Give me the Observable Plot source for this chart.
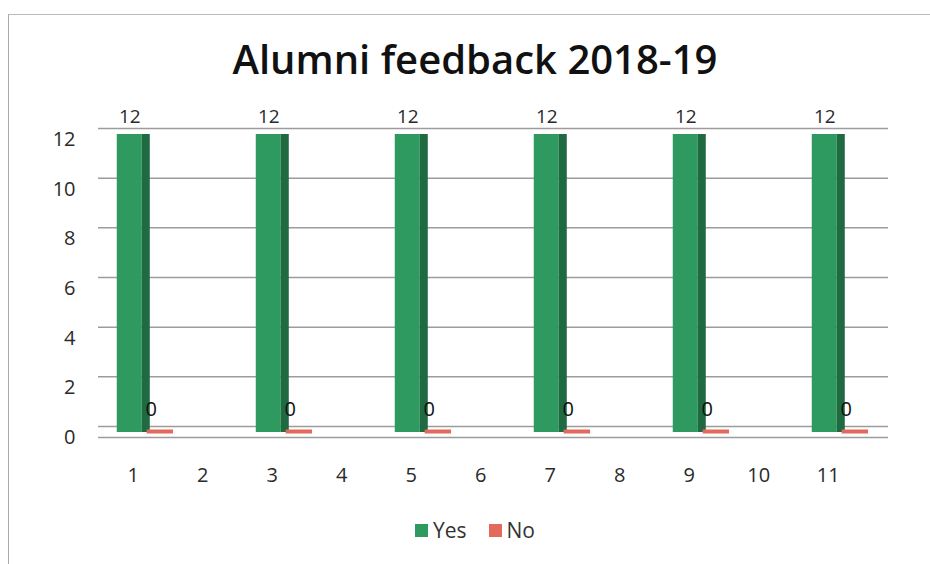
<!DOCTYPE html>
<html>
<head>
<meta charset="utf-8">
<script src="https://cdn.jsdelivr.net/npm/d3@7"></script>
<script src="https://cdn.jsdelivr.net/npm/@observablehq/plot@0.6"></script>
<style>
  html, body { margin: 0; padding: 0; background: #fff; }
  #wrap { position: relative; width: 930px; height: 564px; overflow: hidden; font-family: "Open Sans", sans-serif; }
  #frame { position: absolute; left: 8px; top: 14px; width: 960px; height: 600px; border-left: 1.5px solid #aaa; border-top: 1.5px solid #bbb; }
  #title { position: absolute; left: 0; top: 39px; width: 950px; text-align: center; font-size: 40px; line-height: 40px; font-weight: 600; color: #111; }
  #chart { position: absolute; left: 0; top: 100px; }
  #legend { position: absolute; left: 415px; top: 517px; display: flex; align-items: center; font-size: 21px; color: #333; line-height: 26px; }
  .sw { width: 13px; height: 13px; display: inline-block; margin-right: 5px; }
</style>
</head>
<body>
<div id="wrap">
  <div id="frame"></div>
  <div id="title">Alumni feedback 2018-19</div>
  <div id="chart"></div>
  <div id="legend"></div>
</div>
<script>
// ---- data ----
const categories = [1, 2, 3, 4, 5, 6, 7, 8, 9, 10, 11];
const yesValues  = [12, null, 12, null, 12, null, 12, null, 12, null, 12];
const noValues   = [0, null, 0, null, 0, null, 0, null, 0, null, 0];
const yTicks     = [0, 2, 4, 6, 8, 10, 12];
const seriesNames = ["Yes", "No"];

const colors = { yesFront: "#2f9a5f", yesSide: "#1f6a40", no: "#e2695b", grid: "#9c9c9c", text: "#2a2a2a" };

const rows = categories
  .map((c, i) => ({ cat: c, yes: yesValues[i], no: noValues[i] }))
  .filter(d => d.yes != null);

const chart = Plot.plot({
  width: 930,
  height: 400,
  marginLeft: 98,
  marginRight: 42,
  marginTop: 34,
  marginBottom: 68,
  style: { fontFamily: "Open Sans, sans-serif", color: colors.text, background: "transparent" },
  x: { type: "linear", domain: [0.5, 11.867] },
  y: { domain: [0, 12] },
  marks: [
    // back-wall gridlines
    Plot.ruleY(yTicks, { stroke: colors.grid, strokeWidth: 1.5, dy: -6 }),
    // floor front edge
    Plot.ruleY([0], { stroke: colors.grid, strokeWidth: 1.5, dy: 5 }),
    // Yes bars: front face and shaded side
    Plot.rect(rows, { x1: d => d.cat - 0.23, x2: d => d.cat + 0.13, y1: 0, y2: "yes", fill: colors.yesFront }),
    Plot.rect(rows, { x1: d => d.cat + 0.13, x2: d => d.cat + 0.245, y1: 0, y2: "yes", fill: colors.yesSide }),
    // No bars (zero height slab)
    Plot.ruleY(rows, { y: "no", x1: d => d.cat + 0.2, x2: d => d.cat + 0.58, stroke: colors.no, strokeWidth: 4, dy: -1 }),
    // data labels
    Plot.text(rows, { x: d => d.cat - 0.05, y: "yes", text: d => String(d.yes), dy: -18, fontSize: 19, fill: colors.text }),
    Plot.text(rows, { x: d => d.cat + 0.26, y: "no", text: d => String(d.no), dy: -23, fontSize: 20, fill: "#111" }),
    // axes
    Plot.axisX(categories, { tickSize: 0, tickPadding: 35, fontSize: 20, tickFormat: d => String(d) }),
    Plot.axisY(yTicks, { tickSize: 0, tickPadding: 23, fontSize: 20, dy: 5, tickFormat: d => String(d) })
  ]
});
document.getElementById("chart").appendChild(chart);

// legend
const legendColors = [colors.yesFront, colors.no];
const legend = document.getElementById("legend");
seriesNames.forEach((name, i) => {
  const item = document.createElement("span");
  item.style.display = "inline-flex";
  item.style.alignItems = "center";
  item.style.marginRight = i === 0 ? "22px" : "0";
  const sw = document.createElement("span");
  sw.className = "sw";
  sw.style.background = legendColors[i];
  item.appendChild(sw);
  item.appendChild(document.createTextNode(name));
  legend.appendChild(item);
});
</script>
</body>
</html>
